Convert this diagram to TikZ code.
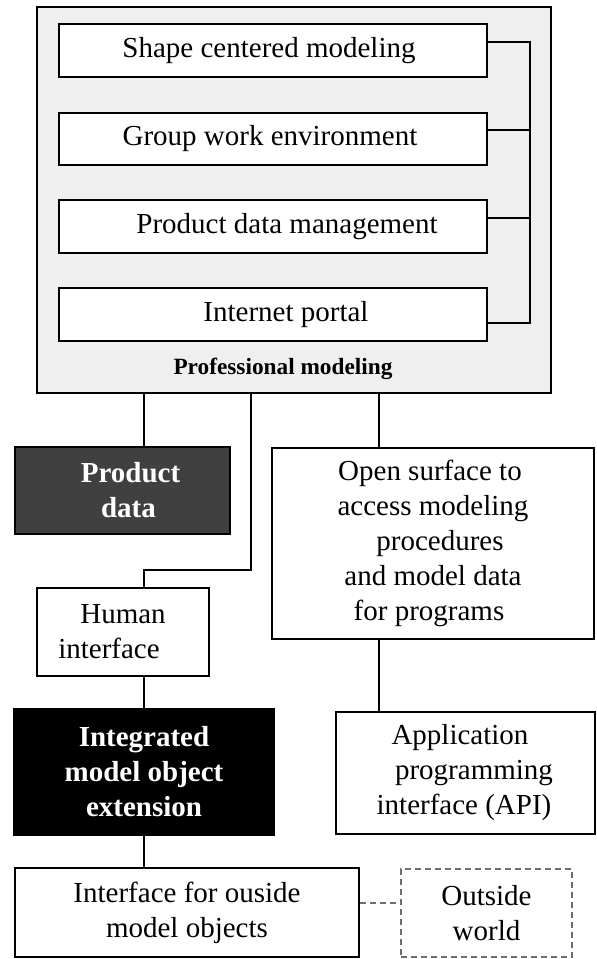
\documentclass[tikz,border=0pt]{standalone}
\usepackage{fontspec}
\setmainfont{Liberation Serif}
\definecolor{outerfill}{RGB}{239,239,239}
\definecolor{pdfill}{RGB}{64,64,64}
\definecolor{dashgray}{RGB}{110,110,110}
\begin{document}
\begin{tikzpicture}[x=1pt,y=-1pt,
  box/.style={draw=black,line width=2.5pt,fill=white,inner sep=0pt,align=center,
    font=\fontsize{29}{35}\selectfont},
  darkbox/.style={box,fill=pdfill,text=white,font=\fontsize{29}{35}\selectfont\bfseries},
  blackbox/.style={box,fill=black,text=white,font=\fontsize{29}{35}\selectfont\bfseries},
  dashbox/.style={box,draw=dashgray,line width=1.2pt,dash pattern=on 6pt off 4pt},
  wire/.style={line width=2.5pt},
  dashwire/.style={line width=1.2pt,draw=dashgray,dash pattern=on 6pt off 4pt}]
\useasboundingbox (0,0) rectangle (597,959);
% outer container
\node[box,fill=outerfill,minimum width=514pt,minimum height=386pt] (outer) at (294,200) {};
\node[box,minimum width=428pt,minimum height=53pt] (b1) at (273,50.5) {Shape centered modeling\hspace*{8pt}};
\node[box,minimum width=428pt,minimum height=52pt] (b2) at (273,139) {Group work environment\hspace*{6pt}};
\node[box,minimum width=428pt,minimum height=53pt] (b3) at (273,226.5) {\hspace*{28pt}Product data management};
\node[box,minimum width=428pt,minimum height=53pt] (b4) at (273,314.5) {\hspace*{26pt}Internet portal};
\node[font=\fontsize{23.3}{28}\selectfont\bfseries,inner sep=0pt] (pm) at (283,369) {Professional modeling};
% bracket
\coordinate (bt) at (530,42);
\coordinate (bb) at (530,323);
\draw[wire] ([yshift=8.5pt]b1.east) -- (bt) -- (bb) -- ([yshift=-8.5pt]b4.east);
\draw[wire] ([yshift=9pt]b2.east) -- ([yshift=9pt]b2.east -| bt);
\draw[wire] ([yshift=8.5pt]b3.east) -- ([yshift=8.5pt]b3.east -| bt);
% lower nodes
\node[darkbox,minimum width=215pt,minimum height=87pt] (pd) at (122.5,490.5) {\hspace*{16pt}Product\\\hspace*{12pt}data};
\node[box,minimum width=172pt,minimum height=88pt] (hi) at (123,632) {Human\\interface\hspace*{28pt}};
\node[box,minimum width=322pt,minimum height=191pt] (os) at (433,543.5)
  {Open surface to\hspace*{6pt}\\access modeling\hspace*{10pt}\\\hspace*{14pt}procedures\\and model data\hspace*{16pt}\\for programs\hspace*{8pt}};
\node[blackbox,minimum width=260pt,minimum height=126pt] (ime) at (144,772) {Integrated\\model object\\extension};
\node[box,minimum width=259pt,minimum height=122pt] (api) at (465.5,773)
  {Application\hspace*{11pt}\\\hspace*{17pt}programming\\interface (API)\hspace*{3pt}};
\node[box,minimum width=344pt,minimum height=89pt] (ifc) at (187,912.5) {Interface for ouside\\model objects};
\node[dashbox,minimum width=171pt,minimum height=88pt] (ow) at (486.5,913) {Outside\\world};
% connectors
\coordinate (j1) at (251,570);
\coordinate (j2) at (144,570);
\draw[wire] ([xshift=21.5pt]pd.north) -- ([xshift=21.5pt]pd.north |- outer.south);
\draw[wire] (j1 |- outer.south) -- (j1) -- (j2) -- (j2 |- hi.north);
\draw[wire] ([xshift=-54pt]os.north) -- ([xshift=-54pt]os.north |- outer.south);
\draw[wire] ([xshift=-86.5pt]api.north) -- ([xshift=-86.5pt]api.north |- os.south);
\draw[wire] (ime.north) -- (ime.north |- hi.south);
\draw[wire] (ime.south) -- (ime.south |- ifc.north);
\draw[wire,white] ([yshift=9pt]ime.east) -- ([yshift=9pt]ime.east -| api.west);
\draw[dashwire] ([yshift=9.5pt]ifc.east) -- ([yshift=9.5pt]ifc.east -| ow.west);
\end{tikzpicture}
\end{document}
